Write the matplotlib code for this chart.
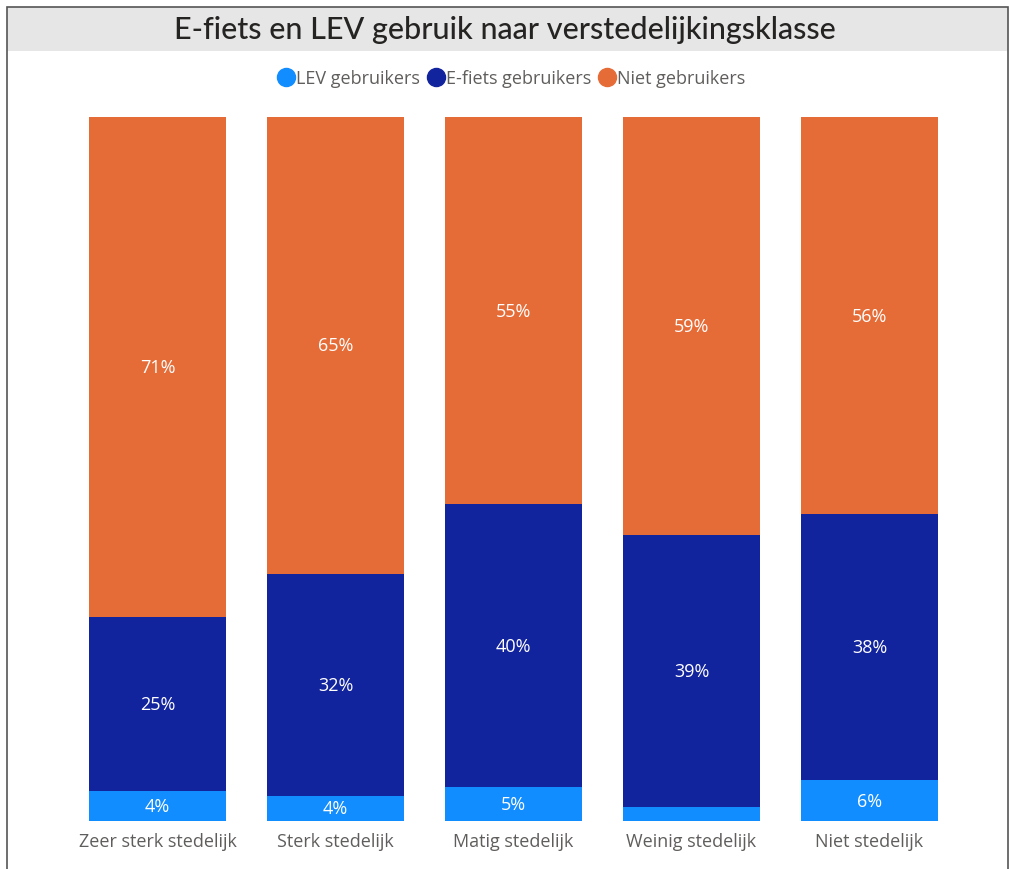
import matplotlib
matplotlib.use("Agg")
import matplotlib.pyplot as plt
from matplotlib.patches import Rectangle
from matplotlib.lines import Line2D
import numpy as np

categories = ["Zeer sterk stedelijk", "Sterk stedelijk", "Matig stedelijk", "Weinig stedelijk", "Niet stedelijk"]
lev = [4.3, 3.6, 4.8, 2.0, 5.8]
efiets = [24.7, 31.5, 40.2, 38.6, 37.8]
niet = [71.0, 64.9, 55.0, 59.4, 56.4]
series_names = ["LEV gebruikers", "E-fiets gebruikers", "Niet gebruikers"]
colors = ["#118DFF", "#12239E", "#E66C37"]

plt.rcParams['font.family'] = ['Open Sans', 'DejaVu Sans']

W, H = 1010, 870
fig = plt.figure(figsize=(W / 100, H / 100), dpi=100)

def fx(px):
    return px / W

def fy(py):
    return 1 - py / H

# frame and title bar
fig.patches.append(Rectangle((fx(7), fy(52)), fx(1008) - fx(7), fy(8) - fy(52),
                             transform=fig.transFigure, facecolor="#E6E6E6", edgecolor="none", zorder=0))
fig.patches.append(Rectangle((fx(7), fy(875)), fx(1008) - fx(7), fy(8) - fy(875),
                             transform=fig.transFigure, facecolor="none", edgecolor="#555555", linewidth=1.2, zorder=5))
fig.text(0.5, fy(30), "E-fiets en LEV gebruik naar verstedelijkingsklasse", ha="center", va="center",
         fontsize=22, color="#252423", family=["Lato", "DejaVu Sans"], fontweight="medium")

ax = fig.add_axes([fx(68.5), 48 / H, 890 / W, 704 / H])
x = np.arange(len(categories))
width = 137 / 178
bottom = np.zeros(len(categories))
for vals, name, col in zip([lev, efiets, niet], series_names, colors):
    vals = np.array(vals)
    ax.bar(x, vals, width, bottom=bottom, color=col, label=name)
    for xi, v, b in zip(x, vals, bottom):
        if v >= 3:
            ax.text(xi, b + v / 2, f"{round(v):.0f}%", ha="center", va="center", color="white", fontsize=13)
    bottom += vals

ax.set_xlim(-0.5, len(categories) - 0.5)
ax.set_ylim(0, 100)
ax.set_xticks(x)
ax.set_xticklabels(categories, fontsize=13, color="#605E5C")
ax.tick_params(axis="x", length=0, pad=8)
ax.set_yticks([])
for s in ax.spines.values():
    s.set_visible(False)

handles = [Line2D([], [], marker="o", linestyle="none", markersize=13, color=c) for c in colors]
fig.legend(handles, series_names, loc="center", bbox_to_anchor=(fx(511), fy(79)), ncol=3, frameon=False,
           fontsize=13, handletextpad=0.05, columnspacing=0.4, handlelength=1.0, labelcolor="#605E5C")

fig.savefig("out.png", dpi=100)
